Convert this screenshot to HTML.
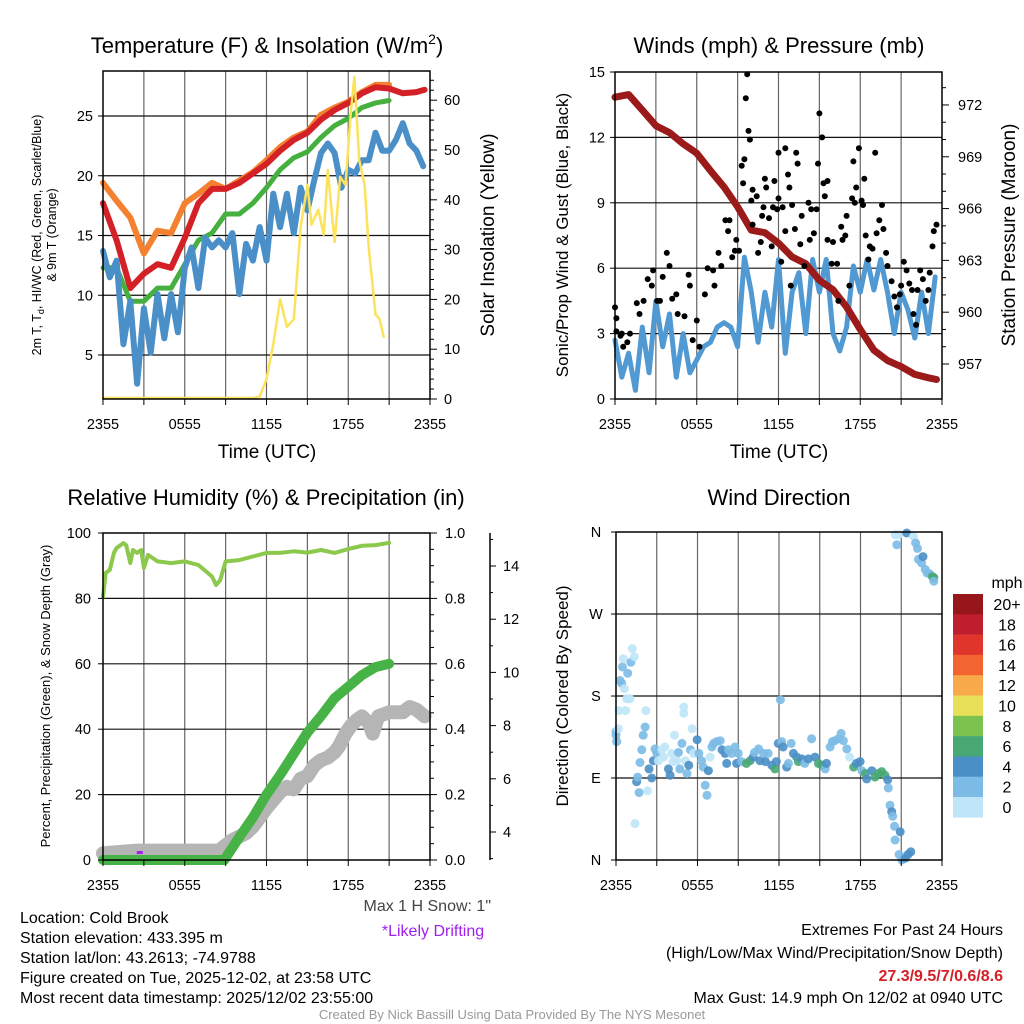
<!DOCTYPE html>
<html><head><meta charset="utf-8"><style>
html,body{margin:0;padding:0;background:#fff;}
svg{display:block;font-family:"Liberation Sans",Arial,sans-serif;}
.t{font-size:22px;fill:#000;text-anchor:middle;}
.at{font-size:19px;fill:#000;text-anchor:middle;}
.tk{font-size:14px;fill:#000;}
.info{font-size:16px;fill:#000;}
</style></head><body>
<svg id="chart" width="1024" height="1024" viewBox="0 0 1024 1024">
<rect x="0" y="0" width="1024" height="1024" fill="#fff"/>
<g id="grids"></g>
<g id="series"></g>
<g id="frames"></g>
<g id="labels"></g>

<text class="t" x="267" y="53">Temperature (F) &amp; Insolation (W/m<tspan dy="-9" font-size="14">2</tspan><tspan dy="9">)</tspan></text>
<text class="t" x="779" y="53">Winds (mph) &amp; Pressure (mb)</text>
<text class="t" x="266" y="505">Relative Humidity (%) &amp; Precipitation (in)</text>
<text class="t" x="779" y="505">Wind Direction</text>

<text class="at" x="267" y="458">Time (UTC)</text>
<text class="at" x="779" y="458">Time (UTC)</text>

<text font-size="12.5" text-anchor="middle" transform="translate(41,235) rotate(-90)">2m T, T<tspan dy="3" font-size="9">d</tspan><tspan dy="-3">, HI/WC (Red, Green, Scarlet/Blue)</tspan></text>
<text font-size="12.5" text-anchor="middle" transform="translate(56,235) rotate(-90)">&amp; 9m T (Orange)</text>
<text class="at" transform="translate(494,235) rotate(-90)">Solar Insolation (Yellow)</text>
<text font-size="17" text-anchor="middle" transform="translate(568,235) rotate(-90)">Sonic/Prop Wind &amp; Gust (Blue, Black)</text>
<text class="at" transform="translate(1015,235) rotate(-90)">Station Pressure (Maroon)</text>
<text font-size="13" text-anchor="middle" transform="translate(50,696) rotate(-90)">Percent, Precipitation (Green), &amp; Snow Depth (Gray)</text>
<text font-size="17" text-anchor="middle" transform="translate(568,696) rotate(-90)">Direction (Colored By Speed)</text>

<text font-size="16" x="1007" y="588" text-anchor="middle">mph</text>

<text class="info" x="491" y="911" text-anchor="end" fill="#444" style="fill:#444">Max 1 H Snow: 1"</text>
<text class="info" x="433" y="936" text-anchor="middle" style="fill:#a020f0">*Likely Drifting</text>
<text class="info" x="20" y="923">Location: Cold Brook</text>
<text class="info" x="20" y="943">Station elevation: 433.395 m</text>
<text class="info" x="20" y="963">Station lat/lon: 43.2613; -74.9788</text>
<text class="info" x="20" y="983">Figure created on Tue, 2025-12-02, at 23:58 UTC</text>
<text class="info" x="20" y="1003">Most recent data timestamp: 2025/12/02 23:55:00</text>
<text class="info" x="1003" y="935" text-anchor="end">Extremes For Past 24 Hours</text>
<text class="info" x="1003" y="958" text-anchor="end">(High/Low/Max Wind/Precipitation/Snow Depth)</text>
<text class="info" x="1003" y="981" text-anchor="end" font-weight="bold" style="fill:#d42127">27.3/9.5/7/0.6/8.6</text>
<text class="info" x="1003" y="1003" text-anchor="end">Max Gust: 14.9 mph On 12/02 at 0940 UTC</text>
<text font-size="13" x="512" y="1019" text-anchor="middle" fill="#999">Created By Nick Bassill Using Data Provided By The NYS Mesonet</text>
</svg>
<script>
// ---------- data ----------
const timeLabels = ["2355","0555","1155","1755","2355"];
const hourly22 = [0,1,2,3,4,5,6,7,8,9,10,11,12,13,14,15,16,17,18,19,20,21];
const redTimes = [0,1,2,3,4,5,6,7,8,9,10,11,12,13,14,15,16,17,18,19,20,21,22,23,23.6];
const redTemp = [17.7,14.6,10.6,11.8,12.6,12.3,14.8,17.7,18.9,18.9,19.4,20.2,21.0,22.1,23.0,23.6,24.7,25.5,26.1,26.9,27.4,27.3,26.9,27.0,27.2];
const orangeTemp = [19.4,17.9,16.5,13.5,15.4,15.2,17.7,18.5,19.4,18.9,19.6,20.3,21.3,22.4,23.2,23.7,25.1,25.7,26.2,27.0,27.6,27.6];
const greenDew = [12.3,12.3,9.5,9.5,10.6,10.6,12.6,14.6,15.2,16.8,16.8,17.7,19.0,20.5,21.5,22.0,23.2,24.2,24.8,25.7,26.1,26.3];
const blueTimes = [0,0.5,1,1.5,2,2.5,3,3.5,4,4.5,5,5.5,6,6.5,7,7.5,8,8.5,9,9.5,10,10.5,11,11.5,12,12.5,13,13.5,14,14.5,15,15.5,16,16.5,17,17.5,18,18.5,19,19.5,20,20.5,21,21.5,22,22.5,23,23.5];
const blueTemp = [13.7,11.5,12.9,5.9,9.5,2.6,8.9,5.2,10.1,6.4,10.1,6.9,12.3,14.0,10.6,14.8,14.0,14.6,14.0,15.2,10.1,14.3,12.9,15.7,12.9,18.5,15.7,18.5,15.2,19.0,17.1,19.6,21.9,22.7,21.9,19.0,20.5,20.2,21.3,21.3,23.6,22.1,22.1,23.0,24.4,22.7,22.1,20.8];
const solarTimes = [0,11,11.5,12,12.5,13,13.5,14,14.5,15,15.3,15.8,16.2,16.5,17,17.4,17.8,18.2,18.45,18.8,19.2,19.5,20,20.3,20.6];
const solarVals = [0.2,0.2,0.5,4,11,20,14.5,16,34.5,43,35,38,33,46,31.5,44.6,43,58,64.7,48,43,30.5,17,16,12.5];

const windTimes = [];
for (let k=0;k<48;k++) windTimes.push(k*0.5);
const windSpeed = [2.7,1.0,2.1,0.4,3.3,1.2,4.5,2.4,3.9,1.0,3.0,1.2,1.8,2.4,2.6,3.3,3.5,3.3,2.4,6.5,4.9,2.6,4.9,3.3,6.4,2.1,4.9,5.8,3.0,6.4,4.9,6.4,3.0,2.2,3.3,6.1,4.9,6.4,5.0,6.4,4.9,3.0,4.9,4.1,2.8,4.9,3.0,5.6];
const pressTimes = [0,1,2,3,4,5,6,7,8,9,10,11,12,13,14,15,16,17,18,19,20,21,22,23,23.6];
const pressVals = [972.45,972.6,971.7,970.8,970.4,969.75,969.2,968.2,967.25,966.1,964.75,964.6,964.0,963.2,962.8,961.85,961.3,960.3,959.0,957.8,957.2,956.85,956.4,956.2,956.1];
const gustTimes = [0,0.1,0.1,0.4,0.5,0.6,0.9,1.1,1.6,1.8,2.1,2.4,2.7,2.8,3.1,3.3,3.5,3.8,4.0,4.2,4.5,4.6,5.1,5.4,5.5,5.7,6.0,6.2,6.6,6.8,7.2,7.3,7.6,7.8,8.1,8.3,8.4,8.6,8.8,8.9,9.1,9.3,9.4,9.5,9.6,9.7,9.8,9.9,10.0,10.1,10.1,10.4,10.5,10.7,10.8,10.9,11.0,11.1,11.3,11.5,11.6,11.7,11.9,12.0,12.0,12.2,12.3,12.5,12.5,12.7,12.8,12.9,13.0,13.2,13.3,13.4,13.6,13.7,13.9,14.2,14.3,14.4,14.6,14.8,14.9,15.0,15.2,15.3,15.4,15.6,15.6,15.9,16.0,16.3,16.4,16.6,16.7,16.9,17.0,17.2,17.4,17.5,17.6,17.7,17.9,18.1,18.2,18.3,18.4,18.6,18.7,18.9,19.1,19.2,19.4,19.6,19.7,19.9,20.0,20.3,20.5,20.7,20.9,21.0,21.2,21.4,21.6,21.8,21.9,22.1,22.2,22.4,22.6,22.8,23.0,23.1,23.3,23.4,23.6];
const gustVals = [4.2,3.7,3.1,2.9,3.0,2.4,2.6,3.0,4.4,3.9,4.5,5.5,5.2,5.9,4.5,4.5,5.6,6.7,6.1,4.6,4.8,3.9,3.8,5.7,5.2,2.7,3.6,2.4,4.8,6.0,5.9,5.2,6.7,6.1,8.2,7.7,8.2,6.5,6.8,7.3,6.8,10.7,9.9,11.0,13.8,14.9,12.3,11.9,9.1,9.6,8.0,9.3,6.7,7.2,8.4,8.8,10.1,9.7,8.3,7.0,8.8,10.0,8.7,11.3,9.2,6.3,8.8,7.7,11.5,10.3,9.7,5.2,8.9,7.8,11.3,10.8,7.1,8.4,6.1,9.0,7.3,8.7,7.6,8.7,10.8,13.1,12.0,9.9,9.3,10.0,7.3,6.2,7.2,6.2,4.5,7.9,7.3,7.5,8.4,5.2,9.2,10.9,9.0,9.7,11.5,9.1,8.9,10.1,7.5,6.4,7.0,6.9,11.3,7.6,8.2,8.9,7.8,6.7,6.1,5.4,4.7,4.2,4.8,5.2,6.3,5.9,5.3,5.0,3.9,3.4,5.0,5.9,5.5,4.5,5.0,5.8,7.0,7.7,8.0];

const rhTimes = [0,0.2,0.5,0.8,1,1.5,1.7,2,2.2,2.5,2.8,3,3.3,4,5,6,7,8,8.3,8.6,9,10,11,12,13,14,15,16,17,18,19,20,21];
const rhVals = [80.5,87.8,88.7,93.9,95.4,96.9,96.3,90.8,94.8,93.9,94.8,89.3,93.3,91.3,90.8,91.3,90.2,86.7,84.1,85.6,91.3,91.7,92.8,93.9,93.9,94.4,94.0,94.8,93.9,95.1,96.1,96.3,97.0];
const precipTimes = [0,8.9,10,11,12,13,14,15,16,17,18,19,20,21];
const precipVals = [0,0,0.07,0.13,0.20,0.26,0.325,0.39,0.44,0.495,0.53,0.565,0.59,0.60];
const snowTimes = [0,2.5,8.5,9.5,10.5,11,12,12.5,13,13.5,14,14.5,15,15.5,16,16.5,17,17.3,17.8,18.2,18.6,19,19.5,19.8,20.2,21,22,22.5,23,23.6];
const snowVals = [3.2,3.3,3.3,3.7,3.96,4.2,4.9,5.2,5.5,5.7,5.6,6.0,6.1,6.5,6.7,6.8,7.0,7.2,7.7,8.0,8.2,8.35,8.1,7.7,8.35,8.5,8.5,8.7,8.6,8.35];

const dirTimes = [0,0,0.05,0.17,0.22,0.3,0.42,0.47,0.54,0.62,0.71,0.79,0.86,0.9,1.03,1.1,1.2,1.35,1.4,1.52,1.6,1.7,1.77,1.9,2.0,2.14,2.2,2.33,2.43,2.63,2.75,2.87,3.0,3.12,3.37,3.5,3.6,3.86,3.98,4.1,4.2,4.3,4.46,4.6,4.7,4.86,4.99,4.99,5.1,5.23,5.36,5.48,5.6,5.7,5.97,6.1,6.3,6.43,6.57,6.7,6.8,6.93,7.06,7.18,7.4,7.67,7.8,8.03,8.15,8.27,8.5,8.76,8.88,9.0,9.25,9.6,9.87,10.1,10.2,10.5,10.6,10.85,11.0,11.2,11.47,11.7,11.8,11.95,12.1,12.2,12.3,12.57,12.69,12.9,13.06,13.3,13.43,13.67,13.9,14.16,14.4,14.65,14.9,15.15,15.4,15.5,15.76,15.93,16.1,16.37,16.57,16.74,16.99,17.2,17.5,17.7,17.97,18.1,18.35,18.46,18.83,19.07,19.3,19.56,19.8,20.0,20.05,20.17,20.3,20.37,20.5,20.55,20.92,20.84,21.04,21.3,21.5,21.7,20.55,20.67,20.8,21.4,21.9,22.06,22.2,22.26,22.5,22.6,22.76,22.9,23.1,23.3,23.4,23.4];
const dirDeg = [137,141,130,144,164,197,194,212,221,188,164,177,205,177,177,217,232,223,40,86,91,74,107,121,137,146,164,76,100,90,109,122,117,109,121,113,124,100,93,117,108,137,109,118,100,128,161,168,109,95,104,121,144,117,132,117,109,102,82,71,98,113,124,128,130,131,121,117,106,121,117,124,106,117,108,106,109,113,118,122,109,117,108,117,104,100,108,128,176,130,124,102,106,128,117,113,108,111,106,111,133,113,106,104,100,106,124,130,131,133,139,131,122,113,102,106,108,98,95,89,98,91,95,97,93,88,79,60,53,48,37,22,31,6,0,2,6,9,357,346,357,359,355,348,342,330,326,333,319,315,314,311,310,306];
const dirSpeed = [3,3,3,1,1,3,3,3,1,1,1,1,3,1,1,3,1,1,1,5,3,3,3,3,3,3,1,1,5,5,5,3,3,1,1,1,1,5,5,1,1,1,1,3,3,3,1,1,1,3,5,3,1,1,5,3,3,3,3,3,5,1,3,3,3,3,5,5,5,3,3,3,5,3,3,7,7,5,3,3,5,3,5,3,5,7,5,5,3,3,5,5,3,3,5,5,7,5,3,5,3,5,7,7,3,5,3,3,3,3,3,3,3,1,7,5,5,3,7,5,5,7,7,7,7,5,3,3,5,3,3,3,5,3,3,5,5,5,1,3,1,5,1,3,3,3,3,5,3,3,3,7,7,3];
const cbLabels = ["20+","18","16","14","12","10","8","6","4","2","0"];
const cbColors = ["#96161b","#be1e2d","#e0352b","#f26430","#f8a94a","#e8df58","#7cc24e","#48a874","#4a8fc6","#7cbbe6","#bfe5f8"];

// ---------- scales ----------
const NS="http://www.w3.org/2000/svg";
function mk(tag){return document.createElementNS(NS,tag);}
const G=document.getElementById('grids'), S=document.getElementById('series'), F=document.getElementById('frames'), L=document.getElementById('labels');
const P1={l:103,r:430,t:71,b:399}, P2={l:615,r:942,t:72,b:399}, P3={l:103,r:430,t:533,b:860}, P4={l:616,r:942,t:532,b:860};
function xs(P){return t=>P.l+t*(P.r-P.l)/24;}
const x1=xs(P1), x2=xs(P2), x3=xs(P3), x4=xs(P4);
const yT=v=>116+(25-v)*11.95, yS=v=>399-v*4.98;
const yW=v=>399-v*21.8, yP=p=>364-(p-957)*17.27;
const yPct=v=>860-v*3.27, yIn=v=>860-v*327, ySn=v=>832-(v-4)*26.6;
const yD=d=>860-d*0.911;

function line(g,x1_,y1_,x2_,y2_,stroke,w){const e=mk('line');e.setAttribute('x1',x1_);e.setAttribute('y1',y1_);e.setAttribute('x2',x2_);e.setAttribute('y2',y2_);e.setAttribute('stroke',stroke);e.setAttribute('stroke-width',w);g.appendChild(e);return e;}
function txt(g,x,y,s,anchor,size){const e=mk('text');e.setAttribute('x',x);e.setAttribute('y',y);e.setAttribute('text-anchor',anchor);e.setAttribute('font-size',size||14);e.textContent=s;g.appendChild(e);return e;}
function pathD(ts,vs,xf,yf){return ts.map((t,i)=>(i?'L':'M')+xf(t).toFixed(1)+' '+yf(vs[i]).toFixed(1)).join(' ');}
function poly(d,color,w){const e=mk('path');e.setAttribute('d',d);e.setAttribute('fill','none');e.setAttribute('stroke',color);e.setAttribute('stroke-width',w);e.setAttribute('stroke-linejoin','round');e.setAttribute('stroke-linecap','round');S.appendChild(e);return e;}

// ---------- grids, frames, time axes ----------
[P1,P2,P3,P4].forEach((P,pi)=>{
  for(let k=1;k<8;k++){
    const x=P.l+k*(P.r-P.l)/8;
    const gl=line(G,x,P.t,x,P.b,'#666',1.2);
    
    
  }
  for(let k=0;k<=8;k++){
    const x=P.l+k*(P.r-P.l)/8;
    const tk=line(F,x,P.b,x,P.b+6,'#000',1);
    
    
  }
  const fr=mk('rect');
  fr.setAttribute('x',P.l);fr.setAttribute('y',P.t);fr.setAttribute('width',P.r-P.l);fr.setAttribute('height',P.b-P.t);
  fr.setAttribute('fill','none');fr.setAttribute('stroke','#000');fr.setAttribute('stroke-width',1.5);
  
  
  F.appendChild(fr);
  timeLabels.forEach((s,i)=>{
    const e=txt(L,P.l+i*(P.r-P.l)/4,P.b+30,s,'middle',14.5);
    
    
  });
});
function hgrid(P,y){const e=line(G,P.l,y,P.r,y,'#111',1.2);}
function ytick(x,y,len){const e=line(F,x,y,x+len,y,'#000',1);}
function ylab(x,y,s,anchor){const e=txt(L,x,y+5,s,anchor,14.5);}

// Panel 1 axes
[5,10,15,20,25].forEach(v=>{hgrid(P1,yT(v));ytick(P1.l,yT(v),-5);ylab(P1.l-10,yT(v),String(v),'end');});
for(let v=0;v<=64;v+=2){ytick(P1.r,yS(v),v%10===0?7:4);}
[0,10,20,30,40,50,60].forEach(v=>ylab(P1.r+14,yS(v),String(v),'start'));
// Panel 2 axes
[0,3,6,9,12,15].forEach(v=>{if(v>0&&v<15)hgrid(P2,yW(v));ytick(P2.l,yW(v),-5);ylab(P2.l-10,yW(v),String(v),'end');});
for(let p=957;p<=973;p++){ytick(P2.r,yP(p),(p-957)%3===0?7:4);}
[957,960,963,966,969,972].forEach(p=>ylab(P2.r+16,yP(p),String(p),'start'));
// Panel 3 axes
[0,20,40,60,80,100].forEach(v=>{if(v>0&&v<100)hgrid(P3,yPct(v));ytick(P3.l,yPct(v),-5);ylab(P3.l-12,yPct(v),String(v),'end');});
for(let k=0;k<=20;k++){ytick(P3.r,yIn(k*0.05),k%4===0?7:4);}
[0,0.2,0.4,0.6,0.8,1.0].forEach(v=>ylab(P3.r+15,yIn(v),v.toFixed(1),'start'));
const sax=line(F,490,533,490,860,'#000',1.5);


for(let v=3;v<=15;v++){ytick(490,ySn(v),v%2===0?6:3);}
[4,6,8,10,12,14].forEach(v=>ylab(503,ySn(v),String(v),'start'));
// Panel 4 axes
const dirNames=["N","E","S","W","N"];
[0,90,180,270,360].forEach((d,i)=>{if(d>0&&d<360)hgrid(P4,yD(d));ytick(P4.l,yD(d),-5);ytick(P4.r,yD(d),-5);ylab(P4.l-20,yD(d),dirNames[i],'middle');});

// ---------- Panel 1 series ----------
const lo=poly(pathD(hourly22,orangeTemp,x1,yT),'#f4812f',6);


const lr=poly(pathD(redTimes,redTemp,x1,yT),'#d42127',6);


const lg=poly(pathD(hourly22,greenDew,x1,yT),'#45b040',5);


const lb=poly(pathD(blueTimes,blueTemp,x1,yT),'#4a8fc8',6);


const ly=poly(pathD(solarTimes,solarVals,x1,yS),'#fde25b',2.5);



// ---------- Panel 2 series ----------
const lw=poly(pathD(windTimes,windSpeed,x2,yW),'#5199d2',5);


const lp=poly(pathD(pressTimes,pressVals,x2,yP),'#9b1b1b',7);


gustTimes.forEach((t,i)=>{
  const c=mk('circle');
  c.setAttribute('cx',x2(t).toFixed(1));c.setAttribute('cy',yW(gustVals[i]).toFixed(1));c.setAttribute('r',3);c.setAttribute('fill','#000');
  
  
  S.appendChild(c);
});

// ---------- Panel 3 series ----------
const lsn=poly(pathD(snowTimes,snowVals,x3,ySn),'#b5b5b5',14);


const lpr=poly(pathD(precipTimes,precipVals,x3,yIn),'#47b347',10);


const lrh=poly(pathD(rhTimes,rhVals,x3,yPct),'#8cc84b',4);


const dm=mk('rect');
dm.setAttribute('x',x3(2.7)-3);dm.setAttribute('y',851);dm.setAttribute('width',6);dm.setAttribute('height',3);dm.setAttribute('fill','#a020f0');


S.appendChild(dm);

// ---------- Panel 4 series ----------
function speedColor(s){const idx=Math.min(10,Math.floor(s/2));return cbColors[10-idx];}
dirTimes.forEach((t,i)=>{
  const c=mk('circle');
  c.setAttribute('cx',x4(t).toFixed(1));c.setAttribute('cy',yD(dirDeg[i]).toFixed(1));c.setAttribute('r',4.5);
  c.setAttribute('fill',speedColor(dirSpeed[i]));c.setAttribute('fill-opacity',0.9);
  
  
  S.appendChild(c);
});
// colorbar
cbColors.forEach((col,i)=>{
  const r=mk('rect');
  r.setAttribute('x',953);r.setAttribute('y',594+i*20.3);r.setAttribute('width',30);r.setAttribute('height',20.6);r.setAttribute('fill',col);
  
  
  F.appendChild(r);
  const t=txt(L,1007,594+i*20.3+16,cbLabels[i],'middle',16);
  
  
});
</script>
</body></html>
